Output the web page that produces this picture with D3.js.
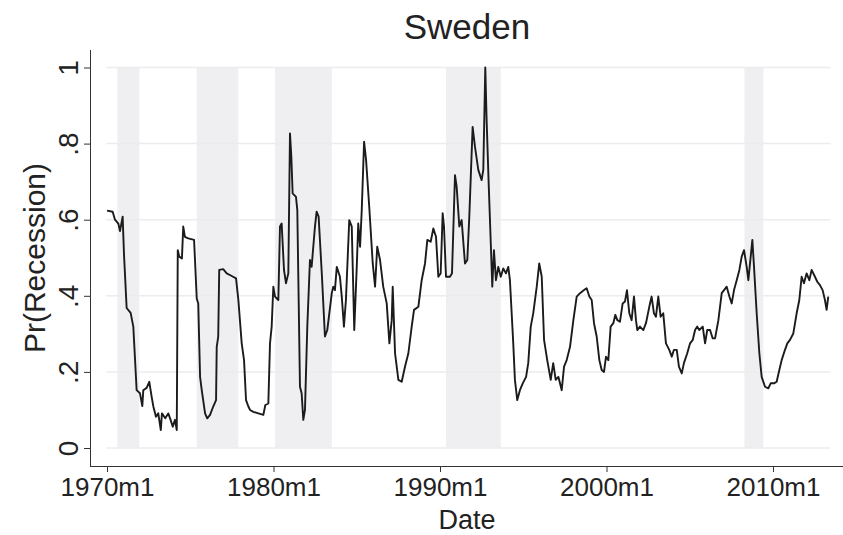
<!DOCTYPE html>
<html>
<head>
<meta charset="utf-8">
<script src="https://cdn.jsdelivr.net/npm/d3@7"></script>
<style>
  body { margin: 0; background: #fff; }
  svg { font-family: 'Liberation Sans', Arial, sans-serif; }
</style>
</head>
<body>
<svg width="843" height="535"></svg>
<script>
const dates = [
  1970.00, 1970.34, 1970.48, 1970.68, 1970.78, 1970.94, 1971.02, 1971.18, 1971.42, 1971.58,
  1971.78, 1971.98, 1972.12, 1972.18, 1972.38, 1972.54, 1972.68, 1972.78, 1972.94, 1973.08,
  1973.23, 1973.30, 1973.50, 1973.68, 1973.82, 1973.95, 1974.08, 1974.19, 1974.25, 1974.34,
  1974.50, 1974.58, 1974.68, 1974.88, 1975.23, 1975.39, 1975.48, 1975.59, 1975.69, 1975.89,
  1976.02, 1976.19, 1976.38, 1976.55, 1976.59, 1976.68, 1976.74, 1976.98, 1977.19, 1977.49,
  1977.75, 1977.89, 1978.09, 1978.23, 1978.35, 1978.49, 1978.59, 1978.79, 1979.09, 1979.39,
  1979.51, 1979.69, 1979.79, 1979.89, 1979.99, 1980.09, 1980.29, 1980.39, 1980.49, 1980.63,
  1980.75, 1980.89, 1980.99, 1981.07, 1981.15, 1981.35, 1981.43, 1981.59, 1981.69, 1981.79,
  1981.89, 1982.03, 1982.19, 1982.29, 1982.49, 1982.59, 1982.71, 1982.90, 1983.09, 1983.23,
  1983.50, 1983.59, 1983.69, 1983.80, 1983.99, 1984.10, 1984.23, 1984.35, 1984.55, 1984.70,
  1984.85, 1985.00, 1985.09, 1985.20, 1985.30, 1985.44, 1985.56, 1985.75, 1985.96, 1986.10,
  1986.23, 1986.40, 1986.59, 1986.80, 1986.96, 1987.10, 1987.16, 1987.30, 1987.50, 1987.70,
  1987.90, 1988.10, 1988.30, 1988.44, 1988.70, 1988.90, 1989.10, 1989.24, 1989.44, 1989.60,
  1989.76, 1989.90, 1990.04, 1990.16, 1990.24, 1990.36, 1990.60, 1990.72, 1990.90, 1991.00,
  1991.16, 1991.30, 1991.50, 1991.64, 1991.76, 1991.96, 1992.10, 1992.30, 1992.50, 1992.60,
  1992.72, 1992.80, 1992.93, 1993.05, 1993.14, 1993.24, 1993.36, 1993.50, 1993.65, 1993.80,
  1993.96, 1994.10, 1994.20, 1994.40, 1994.50, 1994.64, 1994.80, 1994.97, 1995.17, 1995.30,
  1995.45, 1995.60, 1995.81, 1995.96, 1996.11, 1996.25, 1996.44, 1996.65, 1996.80, 1996.95,
  1997.11, 1997.31, 1997.45, 1997.61, 1997.81, 1998.01, 1998.21, 1998.41, 1998.65, 1998.81,
  1998.97, 1999.11, 1999.25, 1999.41, 1999.57, 1999.71, 1999.85, 1999.97, 2000.11, 2000.25,
  2000.41, 2000.53, 2000.65, 2000.81, 2000.97, 2001.11, 2001.23, 2001.37, 2001.51, 2001.65,
  2001.77, 2001.85, 2002.01, 2002.21, 2002.37, 2002.57, 2002.71, 2002.85, 2002.97, 2003.11,
  2003.25, 2003.41, 2003.57, 2003.77, 2003.92, 2004.05, 2004.22, 2004.35, 2004.52, 2004.65,
  2004.85, 2005.02, 2005.18, 2005.32, 2005.45, 2005.57, 2005.78, 2005.92, 2006.05, 2006.22,
  2006.38, 2006.52, 2006.72, 2006.92, 2007.06, 2007.22, 2007.38, 2007.52, 2007.66, 2007.82,
  2007.98, 2008.12, 2008.26, 2008.42, 2008.52, 2008.62, 2008.76, 2008.86, 2009.02, 2009.18,
  2009.32, 2009.52, 2009.72, 2009.86, 2010.06, 2010.22, 2010.38, 2010.52, 2010.72, 2010.86,
  2011.02, 2011.22, 2011.42, 2011.58, 2011.72, 2011.86, 2012.02, 2012.18, 2012.32, 2012.52,
  2012.66, 2012.82, 2012.98, 2013.12, 2013.22, 2013.32
]

const prob = [
  0.624, 0.621, 0.600, 0.590, 0.570, 0.608, 0.510, 0.368, 0.355, 0.319,
  0.152, 0.144, 0.110, 0.152, 0.158, 0.174, 0.135, 0.110, 0.082, 0.091,
  0.047, 0.091, 0.078, 0.091, 0.074, 0.056, 0.074, 0.047, 0.520, 0.503,
  0.498, 0.582, 0.555, 0.551, 0.547, 0.393, 0.380, 0.187, 0.152, 0.091,
  0.078, 0.087, 0.109, 0.126, 0.266, 0.293, 0.468, 0.470, 0.459, 0.452,
  0.446, 0.389, 0.275, 0.231, 0.126, 0.109, 0.100, 0.095, 0.091, 0.087,
  0.113, 0.117, 0.275, 0.319, 0.424, 0.398, 0.389, 0.582, 0.590, 0.468,
  0.433, 0.459, 0.827, 0.766, 0.669, 0.660, 0.625, 0.161, 0.144, 0.074,
  0.100, 0.319, 0.494, 0.476, 0.582, 0.621, 0.608, 0.459, 0.293, 0.310,
  0.407, 0.424, 0.415, 0.476, 0.450, 0.398, 0.319, 0.389, 0.599, 0.582,
  0.310, 0.476, 0.590, 0.529, 0.625, 0.805, 0.757, 0.634, 0.485, 0.424,
  0.529, 0.494, 0.424, 0.380, 0.275, 0.336, 0.424, 0.249, 0.179, 0.174,
  0.214, 0.249, 0.319, 0.363, 0.371, 0.441, 0.485, 0.547, 0.542, 0.577,
  0.555, 0.450, 0.459, 0.617, 0.582, 0.450, 0.450, 0.459, 0.717, 0.687,
  0.582, 0.599, 0.485, 0.494, 0.608, 0.844, 0.792, 0.731, 0.704, 0.731,
  1.000, 0.862, 0.687, 0.538, 0.424, 0.520, 0.441, 0.476, 0.450, 0.472,
  0.459, 0.476, 0.441, 0.275, 0.179, 0.126, 0.152, 0.170, 0.187, 0.223,
  0.319, 0.354, 0.424, 0.485, 0.450, 0.284, 0.231, 0.179, 0.223, 0.179,
  0.187, 0.152, 0.214, 0.231, 0.266, 0.336, 0.398, 0.407, 0.415, 0.420,
  0.398, 0.389, 0.328, 0.293, 0.231, 0.205, 0.200, 0.240, 0.231, 0.319,
  0.328, 0.350, 0.336, 0.332, 0.380, 0.385, 0.415, 0.354, 0.336, 0.398,
  0.336, 0.310, 0.319, 0.310, 0.328, 0.371, 0.398, 0.354, 0.345, 0.398,
  0.345, 0.354, 0.275, 0.258, 0.240, 0.258, 0.258, 0.214, 0.196, 0.223,
  0.249, 0.275, 0.284, 0.310, 0.319, 0.310, 0.319, 0.275, 0.310, 0.310,
  0.288, 0.288, 0.336, 0.407, 0.415, 0.424, 0.398, 0.380, 0.415, 0.441,
  0.468, 0.503, 0.520, 0.476, 0.441, 0.485, 0.547, 0.476, 0.354, 0.249,
  0.187, 0.161, 0.157, 0.170, 0.170, 0.174, 0.205, 0.231, 0.258, 0.275,
  0.284, 0.301, 0.354, 0.389, 0.450, 0.433, 0.459, 0.441, 0.468, 0.450,
  0.437, 0.428, 0.415, 0.389, 0.363, 0.398
]

// recession periods (start, end) in decimal years
const recStart = [1970.62, 1975.39, 1980.09, 1990.36, 2008.28]
const recEnd = [1971.94, 1977.89, 1983.50, 1993.65, 2009.42]

const xTicks = [1970, 1980, 1990, 2000, 2010]
const yTicks = [0, 0.2, 0.4, 0.6, 0.8, 1]

const svg = d3.select('svg')

const x = d3.scaleLinear().domain([1970, 2010]).range([107, 773])
const y = d3.scaleLinear().domain([0, 1]).range([448, 67.5])

const series = dates.map((d, i) => ({ date: d, p: prob[i] }))

// shaded recessions
svg.append('g')
  .selectAll('rect')
  .data(recStart)
  .enter()
  .append('rect')
  .attr('x', (d) => x(d))
  .attr('width', (d, i) => x(recEnd[i]) - x(d))
  .attr('y', y(1))
  .attr('height', y(0) - y(1))
  .attr('fill', '#efeff2')

// grid
svg.append('g')
  .selectAll('line')
  .data(yTicks)
  .enter()
  .append('line')
  .attr('x1', x(1969.95))
  .attr('x2', x(2013.45))
  .attr('y1', (d) => y(d))
  .attr('y2', (d) => y(d))
  .attr('stroke', '#ececee')
  .attr('stroke-width', 1.5)

const line = d3.line()
  .x((d) => x(d.date))
  .y((d) => y(d.p))

svg.append('path')
  .datum(series)
  .attr('d', line)
  .attr('fill', 'none')
  .attr('stroke', '#1b1b1b')
  .attr('stroke-width', 1.9)
  .attr('stroke-linejoin', 'round')

// axes
const xAxis = d3.axisBottom(x)
  .tickValues(xTicks)
  .tickFormat((d) => d + 'm1')
  .tickSize(6)
  .tickPadding(6)

const gx = svg.append('g')
  .attr('transform', 'translate(0, 466)')
  .call(xAxis)

gx.select('.domain').attr('d', 'M90,0.5H843')
gx.selectAll('text')
  .attr('font-size', 26)
  .attr('fill', '#222')
  .attr('font-family', "'Liberation Sans', Arial, sans-serif")
gx.selectAll('line, path').attr('stroke', '#333')

const yAxis = d3.axisLeft(y)
  .tickValues(yTicks)
  .tickFormat((d) => d === 0 || d === 1 ? String(d) : d3.format('.1f')(d).replace(/^0/, ''))
  .tickSize(6)

const gy = svg.append('g')
  .attr('transform', 'translate(90, 0)')
  .call(yAxis)

gy.select('.domain').attr('d', 'M0.5,50V466')
gy.selectAll('line, path').attr('stroke', '#333')
gy.selectAll('text')
  .attr('font-size', 28)
  .attr('fill', '#222')
  .attr('font-family', "'Liberation Sans', Arial, sans-serif")
  .attr('text-anchor', 'middle')
  .attr('x', null)
  .attr('dy', null)
  .attr('transform', 'translate(-12, 0) rotate(-90)')

svg.append('text')
  .text('Sweden')
  .attr('x', 467)
  .attr('y', 39)
  .attr('text-anchor', 'middle')
  .attr('font-size', 35)
  .attr('fill', '#222')

svg.append('text')
  .text('Date')
  .attr('x', 467)
  .attr('y', 529)
  .attr('text-anchor', 'middle')
  .attr('font-size', 27)
  .attr('fill', '#222')

svg.append('text')
  .text('Pr(Recession)')
  .attr('transform', 'translate(45, 258) rotate(-90)')
  .attr('text-anchor', 'middle')
  .attr('font-size', 30)
  .attr('fill', '#222')
</script>
</body>
</html>
